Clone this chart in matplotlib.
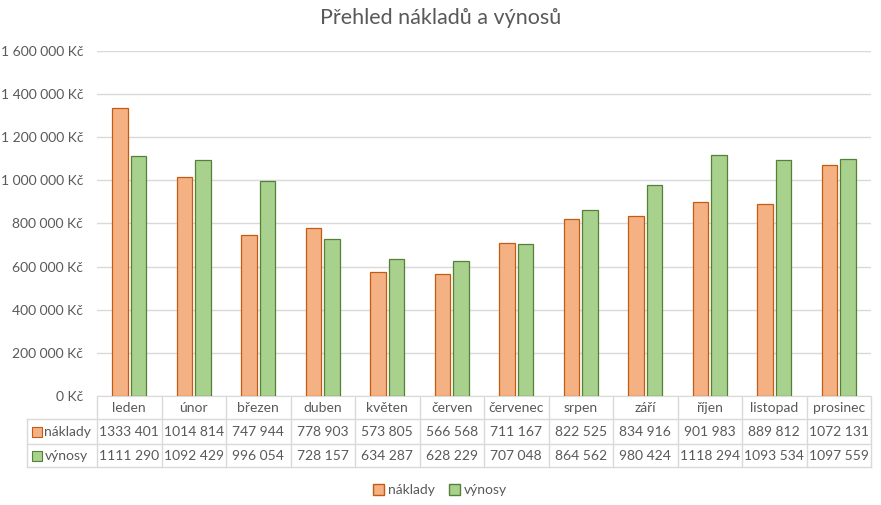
import matplotlib
matplotlib.use("Agg")
import matplotlib.pyplot as plt
import matplotlib.transforms as mtransforms
from matplotlib.patches import Patch
from matplotlib.lines import Line2D
import numpy as np

months = ["leden", "únor", "březen", "duben", "květen", "červen", "červenec",
          "srpen", "září", "říjen", "listopad", "prosinec"]
naklady = [1333401, 1014814, 747944, 778903, 573805, 566568, 711167,
           822525, 834916, 901983, 889812, 1072131]
vynosy = [1111290, 1092429, 996054, 728157, 634287, 628229, 707048,
          864562, 980424, 1118294, 1093534, 1097559]
series_names = ["náklady", "výnosy"]
yticks = [0, 200000, 400000, 600000, 800000, 1000000, 1200000, 1400000, 1600000]

plt.rcParams['font.family'] = ['Lato', 'DejaVu Sans']
txt = "#595959"
grid = "#D9D9D9"
c_nak, e_nak = "#F4B183", "#C55A11"
c_vyn, e_vyn = "#A9D18E", "#538135"


def cell(v):
    # table format: only the last group of three is separated
    return f"{v // 1000} {v % 1000:03d}"


W, H = 881, 505
fig = plt.figure(figsize=(W / 100, H / 100), dpi=100)
L, R, T, B = 97, 871, 51, 396
ax = fig.add_axes([L / W, 1 - B / H, (R - L) / W, (B - T) / H])

x = np.arange(len(months))
w = 0.24
ax.bar(x - 0.145, naklady, w, color=c_nak, edgecolor=e_nak, linewidth=0.9, zorder=3)
ax.bar(x + 0.145, vynosy, w, color=c_vyn, edgecolor=e_vyn, linewidth=0.9, zorder=3)

ax.set_xlim(-0.5, len(months) - 0.5)
ax.set_ylim(0, 1600000)
ax.set_yticks(yticks)
ax.set_yticklabels([f"{v:,} Kč".replace(",", " ") for v in yticks])
ax.tick_params(axis='y', length=0, pad=10, labelsize=10, labelcolor=txt)
ax.set_xticks([])
ax.grid(axis='y', color=grid, linewidth=1, zorder=0)
for s in ["top", "right", "left"]:
    ax.spines[s].set_visible(False)
ax.spines["bottom"].set_color(grid)

fig.text(441 / W, 1 - 18 / H, "Přehled nákladů a výnosů", ha='center',
         va='center', fontsize=15.5, color=txt)

# data table under the axes
tr = mtransforms.blended_transform_factory(ax.transData, fig.transFigure)
def fy(py):
    return 1 - py / H

rows = [397, 419, 444, 467]
x_left = -0.5 - (L - 27) / ((R - L) / 12)
x_right = len(months) - 0.5
for i in range(len(months) + 1):
    xv = i - 0.5
    ax.add_line(Line2D([xv, xv], [fy(rows[0]), fy(rows[3])], transform=tr,
                       color=grid, linewidth=1, clip_on=False))
ax.add_line(Line2D([x_left, x_left], [fy(rows[1]), fy(rows[3])], transform=tr,
                   color=grid, linewidth=1, clip_on=False))
for ry in rows[1:]:
    ax.add_line(Line2D([x_left, x_right], [fy(ry), fy(ry)], transform=tr,
                       color=grid, linewidth=1, clip_on=False))

fs = 10
for i, m in enumerate(months):
    ax.text(i, fy((rows[0] + rows[1]) / 2), m, transform=tr, ha='center',
            va='center', fontsize=fs, color=txt)
    ax.text(i, fy((rows[1] + rows[2]) / 2), cell(naklady[i]),
            transform=tr, ha='center', va='center', fontsize=fs, color=txt)
    ax.text(i, fy((rows[2] + rows[3]) / 2), cell(vynosy[i]),
            transform=tr, ha='center', va='center', fontsize=fs, color=txt)

# row headers with colour keys
for (r0, r1), name, fc, ec in [((rows[1], rows[2]), series_names[0], c_nak, e_nak),
                                ((rows[2], rows[3]), series_names[1], c_vyn, e_vyn)]:
    cy = (r0 + r1) / 2
    ax.add_patch(plt.Rectangle((x_left + 0.08, fy(cy + 5)), 0.15, 10 / H,
                               transform=tr, facecolor=fc, edgecolor=ec,
                               linewidth=0.8, clip_on=False))
    ax.text(x_left + 0.27, fy(cy), name, transform=tr, ha='left', va='center',
            fontsize=fs, color=txt)

handles = [Patch(facecolor=c_nak, edgecolor=e_nak, label=series_names[0]),
           Patch(facecolor=c_vyn, edgecolor=e_vyn, label=series_names[1])]
fig.legend(handles=handles, loc='center', bbox_to_anchor=(440 / W, fy(490)),
           ncol=2, frameon=False, fontsize=fs, labelcolor=txt,
           handlelength=0.8, handleheight=0.8, handletextpad=0.3, columnspacing=1.0)

fig.savefig("out.png", dpi=100)
